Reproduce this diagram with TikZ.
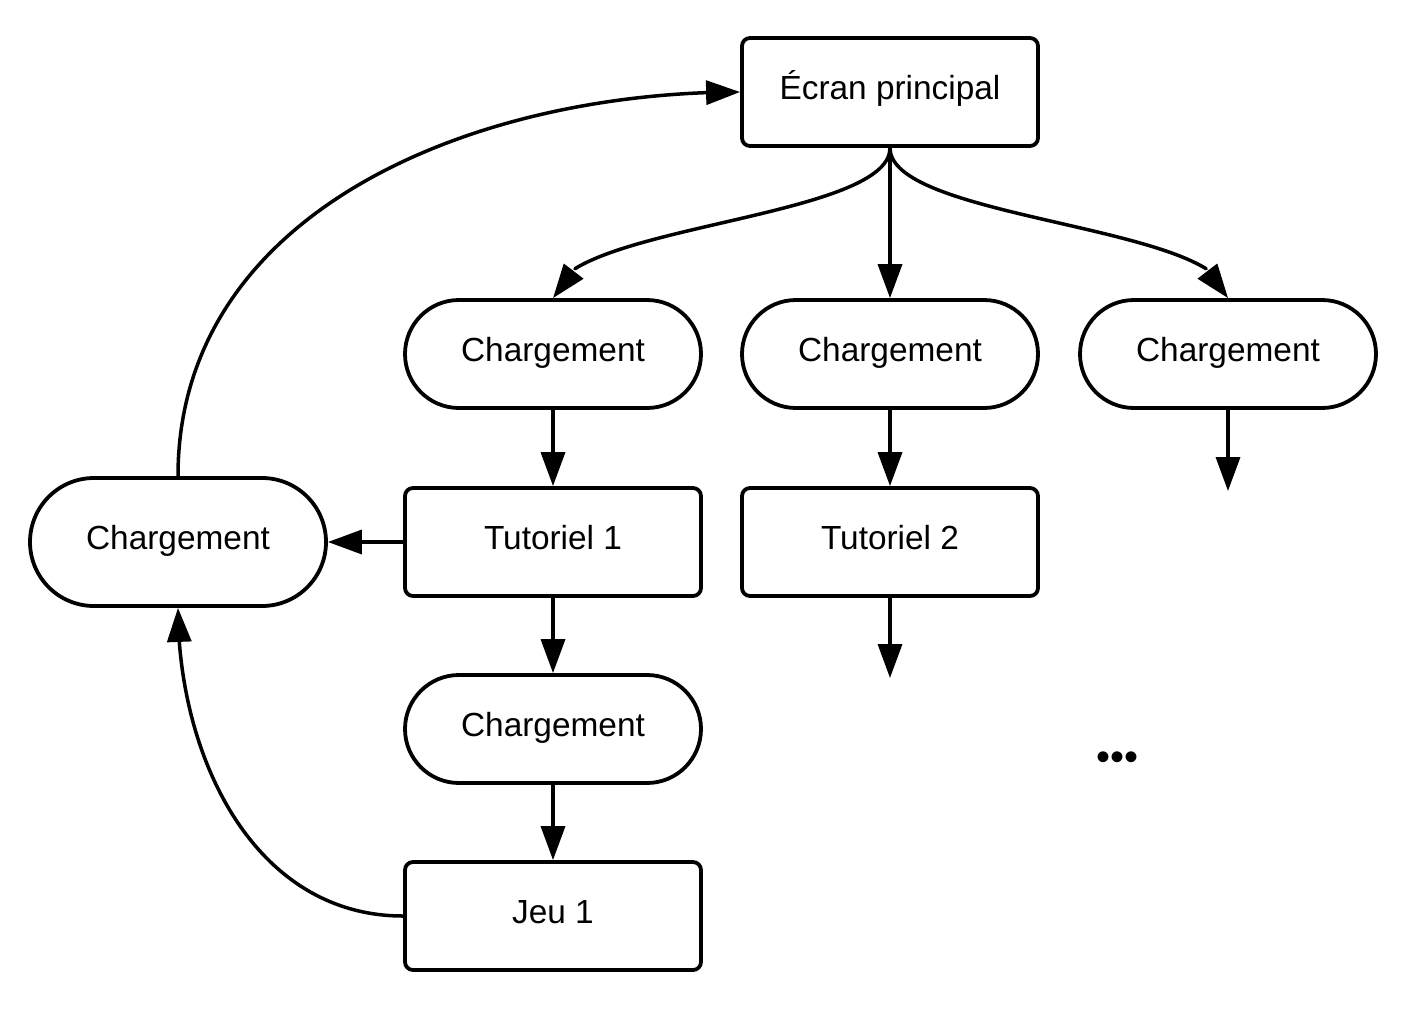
\documentclass[tikz,border=0pt]{standalone}
\usepackage{fontspec}
\setmainfont{Liberation Sans}
\usetikzlibrary{arrows.meta,bending}

\begin{document}
\begin{tikzpicture}[line cap=round,line join=round,>={Triangle[length=17pt,width=12pt]},x=0.5pt,y=0.5pt,
		ecran/.style={draw,line width=1.9pt,rounded corners=4pt,minimum width=148pt,minimum height=54pt,inner sep=0pt,text height=12pt,text depth=5pt,font=\fontsize{16.7}{20}\selectfont},
		charg/.style={ecran,rounded corners=27pt},
		fleche/.style={->,line width=1.75pt}]
	\useasboundingbox (0,0) rectangle (1408,-1028);
	% boites
	\node[ecran] (E) at (890,-92) {Écran principal};
	\node[charg] (C1) at (553,-354) {Chargement};
	\node[charg] (C2) at (890,-354) {Chargement};
	\node[charg] (C3) at (1228,-354) {Chargement};
	\node[ecran] (T1) at (553,-542) {Tutoriel 1};
	\node[ecran] (T2) at (890,-542) {Tutoriel 2};
	\node[charg] (C4) at (553,-729) {Chargement};
	\node[ecran] (J1) at (553,-916) {Jeu 1};
	\node[charg,minimum height=64pt,rounded corners=32pt] (CL) at (178,-542) {Chargement};
	\node[inner sep=0pt,anchor=base,font=\fontsize{20}{24}\selectfont] (dots) at (1117,-770) {•••};
	\coordinate (C3bas) at (1228,-491);
	\coordinate (T2bas) at (890,-678);
	% fleches
	\draw[fleche] (E.south) to[out=-90,in=90,looseness=0.5] (C1.north);
	\draw[fleche] (E.south) -- (C2.north);
	\draw[fleche] (E.south) to[out=-90,in=90,looseness=0.5] (C3.north);
	\draw[fleche] (C1) -- (T1);
	\draw[fleche] (C2) -- (T2);
	\draw[fleche] (C3) -- (C3bas);
	\draw[fleche] (T2) -- (T2bas);
	\draw[fleche] (T1) -- (C4);
	\draw[fleche] (C4) -- (J1);
	\draw[fleche] (T1.west) -- (CL.east);
	\draw[fleche] (J1.west) to[out=180,in=-90] (CL.south);
	\draw[fleche] (CL.north) to[out=90,in=180] (E.west);
\end{tikzpicture}
\end{document}
